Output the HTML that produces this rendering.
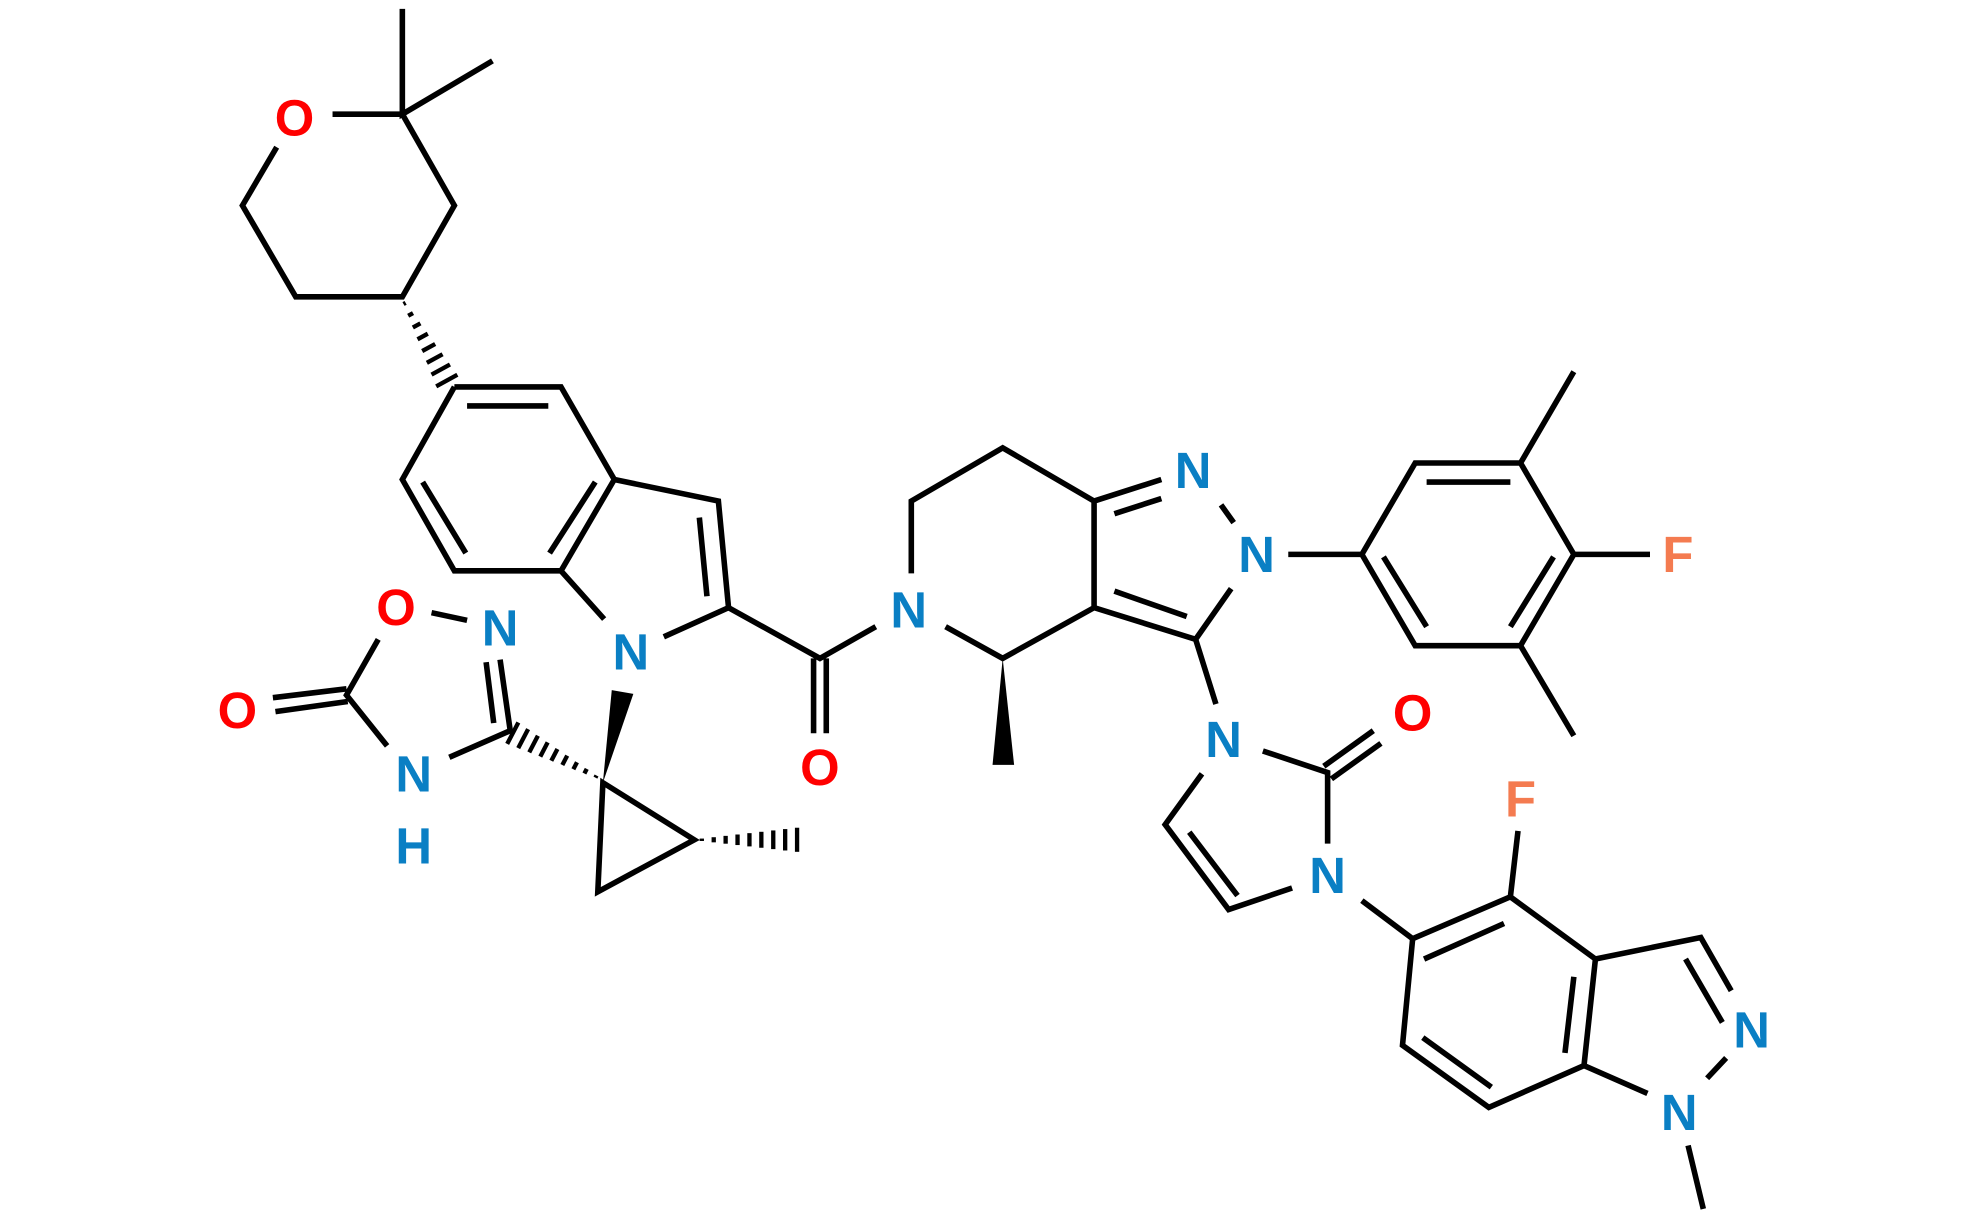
<!DOCTYPE html>
<html><head><meta charset="utf-8"><style>
html,body{margin:0;padding:0;background:#fff;}
svg{display:block;}
text{font-family:"Liberation Sans",sans-serif;font-weight:bold;font-size:40px;text-anchor:middle;dominant-baseline:central;}
</style></head><body>
<svg id="s" width="1980" height="1214" viewBox="0 0 1560 957" preserveAspectRatio="none" xmlns="http://www.w3.org/2000/svg">
<g stroke="#000" stroke-width="4.4" stroke-linecap="butt" fill="none">
<path d="M317,7 L317,90 L388,48 M317,90 L262,90 M317,90 L358,162 L317,234 L233,234 L191,162 L218,116"/>
<path d="M358,305 L442,305 L484,378 L442,450 L358,450 L317,378 L358,305 M368,320 L432,320 M333,380 L367,436 M469,380 L433,436"/>
<path d="M484,378 L566,395 L574,479 L523,502 M476,488 L442,450 M551,408 L557,470"/>
<path d="M574,479 L646,519 L690,494 M641,519 L641,578 M651,519 L651,578"/>
<path d="M718,452 L718,395 L790,353 L862,395 L862,479 L790,519 L745,494 M862,395 L915,378 M878,405 L915,393 M962,398 L972,412 M970,464 L942,504 L862,479 M878,466 L935,486 M942,504 L958,555"/>
<path d="M1015,437 L1073,437 L1115,365 L1198,365 L1240,437 L1198,509 L1115,509 L1073,437 M1124,380 L1190,380 M1224,439 L1190,494 M1124,494 L1090,439 M1198,365 L1240,293 M1198,509 L1240,580 M1240,437 L1300,437"/>
<path d="M947,610 L918,650 L968,717 L1018,700 M937,656 L975,706 M1046,665 L1046,609 L995,592 M1043,604 L1082,576 M1049,614 L1088,586 M1073,710 L1113,740"/>
<path d="M1113,740 L1190,707 L1257,756 L1248,840 L1173,873 L1105,824 L1113,740 M1122,756 L1185,728 M1240,770 L1233,830 M1121,818 L1175,857 M1190,707 L1196,655 M1257,756 L1340,739 L1364,781 M1328,756 L1357,806 M1248,840 L1298,862 M1345,850 L1360,834 M1330,903 L1342,953"/>
<path d="M340,483 L368,489 M383,522 L389,570 M394,520 L402,576 L354,597 M305,588 L273,548 L298,504 M273,543 L215,550 M274,553 L217,561"/>
<path d="M475,617 L547,662 L471,703 Z"/>
</g>
<g fill="#000">
<polygon points="475,617 482,544 499,547"/>
<polygon points="790,519 782,603 799,603"/>
</g>
<g id="hash" stroke="#000" stroke-width="3.4"></g>
<text x="232" y="93" fill="#f00">O</text>
<text x="646" y="605" fill="#f00">O</text>
<text x="312" y="479" fill="#f00">O</text>
<text x="187" y="560" fill="#f00">O</text>
<text x="1113" y="562" fill="#f00">O</text>
<text x="497" y="514" fill="#0a7fc4">N</text>
<text x="716" y="481" fill="#0a7fc4">N</text>
<text x="940" y="371" fill="#0a7fc4">N</text>
<text x="990" y="437" fill="#0a7fc4">N</text>
<text x="964" y="583" fill="#0a7fc4">N</text>
<text x="1046" y="690" fill="#0a7fc4">N</text>
<text x="1380" y="812" fill="#0a7fc4">N</text>
<text x="1323" y="877" fill="#0a7fc4">N</text>
<text x="394" y="495" fill="#0a7fc4">N</text>
<text x="326" y="610" fill="#0a7fc4">N</text>
<text x="326" y="667" fill="#0a7fc4">H</text>
<text x="1322" y="437" fill="#f47b50">F</text>
<text x="1198" y="630" fill="#f47b50">F</text>
</svg>
<script>
(function(){
var g=document.getElementById('hash');
function hw(x1,y1,x2,y2,n,w){
 var dx=x2-x1,dy=y2-y1,L=Math.sqrt(dx*dx+dy*dy),px=-dy/L,py=dx/L;
 for(var i=0;i<n;i++){var t=0.05+0.95*i/(n-1);var cx=x1+dx*t,cy=y1+dy*t,h=0.5+w*t;
  var l=document.createElementNS('http://www.w3.org/2000/svg','line');
  l.setAttribute('x1',cx+px*h);l.setAttribute('y1',cy+py*h);
  l.setAttribute('x2',cx-px*h);l.setAttribute('y2',cy-py*h);g.appendChild(l);}
}
hw(317,236,352,300,8,9);
hw(473,614,404,578,9,9);
hw(549,662,628,662,9,9);
})();
</script>
</body></html>
